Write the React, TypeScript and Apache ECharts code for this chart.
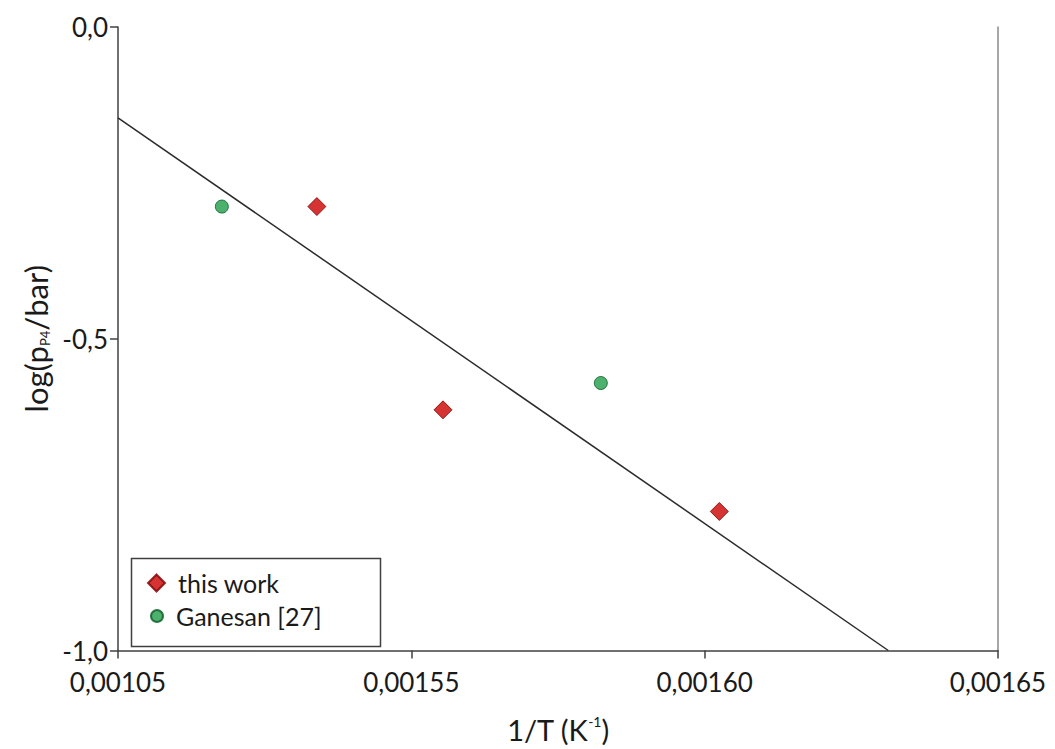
import React, { useEffect, useRef } from "react";
import * as echarts from "echarts";

const X_TICK_LABELS = ["0,00105", "0,00155", "0,00160", "0,00165"];
const X_MIN = 0.0015;
const X_MAX = 0.00165;
const X_STEP = 0.00005;

const THIS_WORK: [number, number][] = [
  [0.0015339, -0.288],
  [0.0015554, -0.614],
  [0.0016025, -0.777],
];
const GANESAN: [number, number][] = [
  [0.0015177, -0.288],
  [0.0015823, -0.571],
];
const FIT_LINE: [number, number][] = [
  [0.0015, -0.1456],
  [0.0016313, -1.0],
];

const FONT = "Lato, 'Open Sans', sans-serif";
const TXT = "#1a1a1a";

export default function App() {
  const ref = useRef<HTMLDivElement>(null);
  useEffect(() => {
    if (!ref.current) return;
    const chart = echarts.init(ref.current, undefined, { renderer: "svg" });
    const legendText = { fontSize: 25, color: TXT, fontFamily: FONT, lineHeight: 30, padding: [0, 0, 0, 8] };
    chart.setOption({
      animation: false,
      backgroundColor: "#ffffff",
      textStyle: { fontFamily: FONT, color: TXT },
      grid: { left: 118, top: 27, right: 57, bottom: 90, containLabel: false },
      xAxis: {
        type: "value",
        min: X_MIN,
        max: X_MAX,
        interval: X_STEP,
        name: "1/T (K{sup|-1})",
        nameLocation: "middle",
        nameGap: 64,
        nameTextStyle: {
          fontSize: 29,
          color: TXT,
          fontFamily: FONT,
          rich: { sup: { fontSize: 14, verticalAlign: "top", padding: [0, 0, 16, 0], fontFamily: FONT, color: TXT } },
        },
        axisLine: { show: true, onZero: false, lineStyle: { color: "#404040", width: 1.5 } },
        axisTick: { show: true, inside: false, length: 8, lineStyle: { color: "#404040", width: 1.5 } },
        splitLine: { show: false },
        axisLabel: {
          fontSize: 26,
          color: TXT,
          fontFamily: FONT,
          margin: 18,
          formatter: (v: number) => {
            const i = Math.round((v - X_MIN) / X_STEP);
            return X_TICK_LABELS[i] ?? "";
          },
        },
      },
      yAxis: [
        {
          type: "value",
          min: -1,
          max: 0,
          interval: 0.5,
          name: "log(p{sub|P4}/bar)",
          nameLocation: "middle",
          nameRotate: 90,
          nameGap: 64,
          nameTextStyle: {
            fontSize: 31,
            color: TXT,
            fontFamily: FONT,
            rich: { sub: { fontSize: 13, verticalAlign: "bottom", padding: [14, 0, 0, 0], fontFamily: FONT, color: TXT } },
          },
          axisLine: { show: true, onZero: false, lineStyle: { color: "#404040", width: 1.5 } },
          axisTick: { show: true, inside: false, length: 8, lineStyle: { color: "#404040", width: 1.5 } },
          splitLine: { show: false },
          axisLabel: {
            fontSize: 26,
            color: TXT,
            fontFamily: FONT,
            margin: 10,
            formatter: (v: number) => v.toFixed(1).replace(".", ","),
          },
        },
        {
          type: "value",
          min: -1,
          max: 0,
          position: "right",
          axisLine: { show: true, onZero: false, lineStyle: { color: "#8a8a8a", width: 1.5 } },
          axisTick: { show: false },
          axisLabel: { show: false },
          splitLine: { show: false },
        },
      ],
      legend: [
        {
          left: 147,
          top: 568,
          orient: "vertical",
          itemWidth: 17,
          itemHeight: 17,
          padding: 0,
          textStyle: legendText,
          data: ["this work"],
        },
        {
          left: 150,
          top: 601,
          orient: "vertical",
          itemWidth: 12,
          itemHeight: 12,
          padding: 0,
          textStyle: legendText,
          data: ["Ganesan [27]"],
        },
      ],
      graphic: [
        {
          type: "rect",
          left: 129,
          top: 556,
          shape: { width: 249, height: 88 },
          style: { fill: "none", stroke: "#404040", lineWidth: 1.5 },
          z: 10,
          silent: true,
        },
      ],
      series: [
        {
          name: "fit",
          type: "line",
          data: FIT_LINE,
          showSymbol: false,
          symbol: "none",
          lineStyle: { color: "#2b2b2b", width: 1.5 },
          z: 2,
        },
        {
          name: "this work",
          type: "scatter",
          symbol: "diamond",
          symbolSize: 18,
          data: THIS_WORK,
          itemStyle: { color: "#cc0000", borderColor: "#7a0000", borderWidth: 1 },
          z: 3,
        },
        {
          name: "Ganesan [27]",
          type: "scatter",
          symbol: "circle",
          symbolSize: 13,
          data: GANESAN,
          itemStyle: { color: "#1e9e48", borderColor: "#0b5a24", borderWidth: 1 },
          z: 3,
        },
      ],
    });
    return () => chart.dispose();
  }, []);
  return (
    <div
      ref={ref}
      style={{ position: "fixed", left: 0, top: 0, width: 1055, height: 749 }}
    />
  );
}
